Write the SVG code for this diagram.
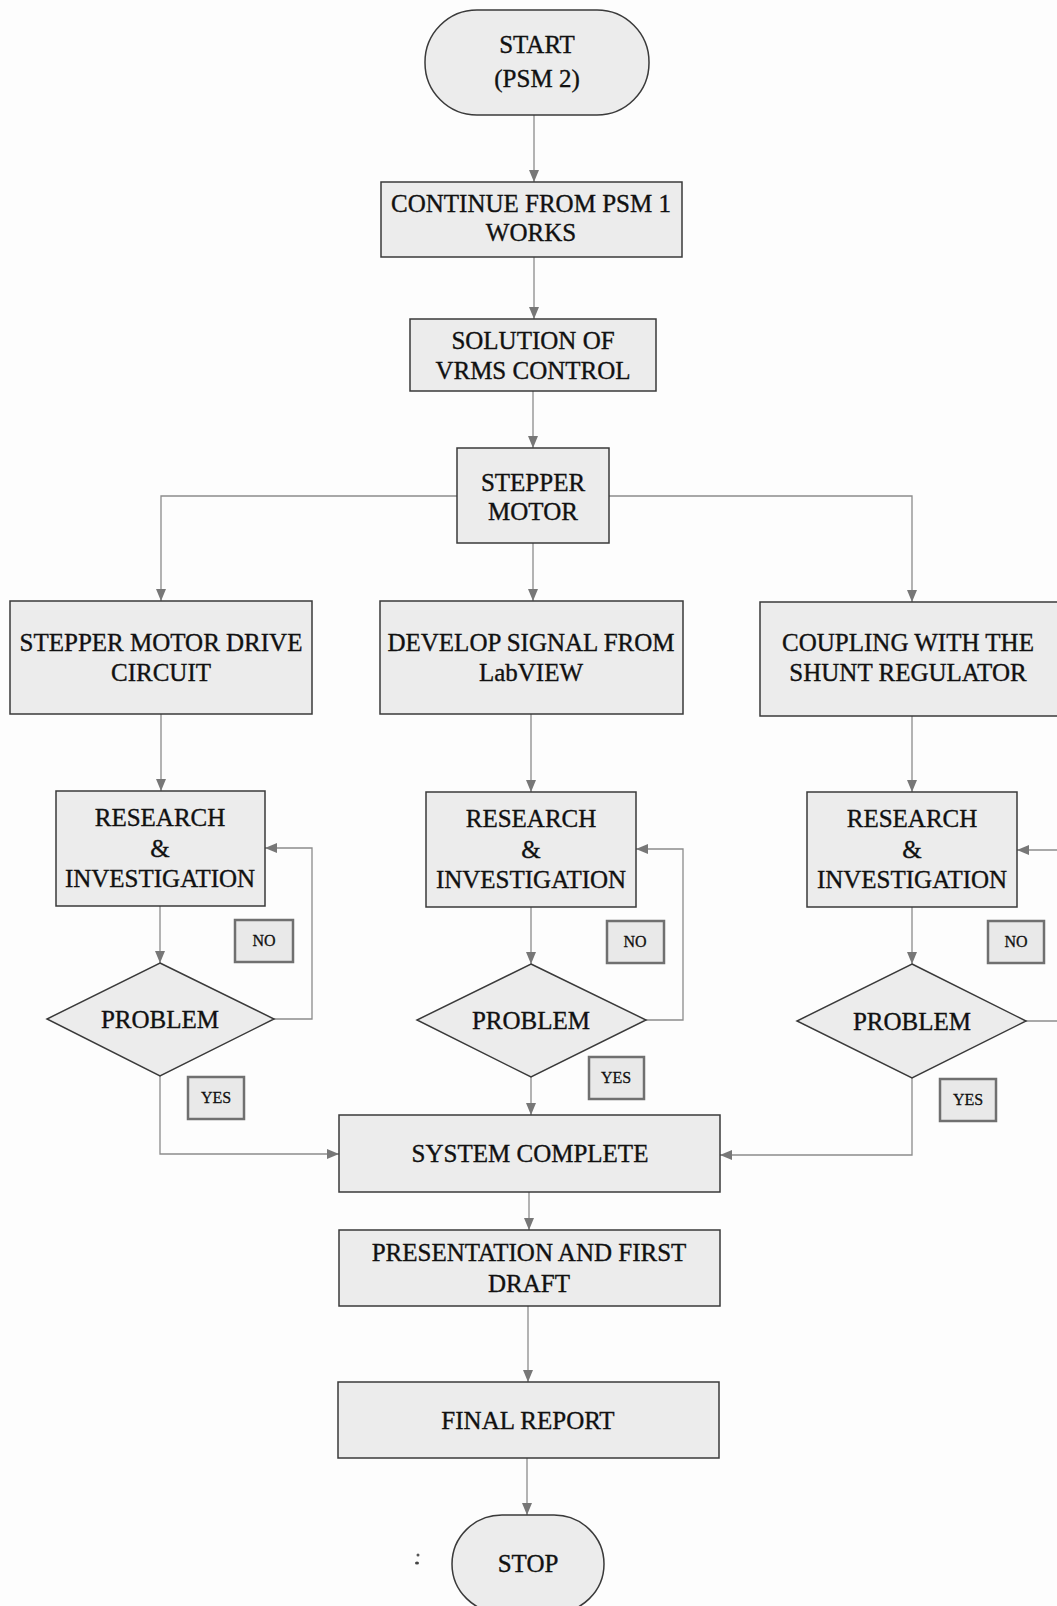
<svg xmlns="http://www.w3.org/2000/svg" width="1057" height="1606" viewBox="0 0 1057 1606">
<defs>
<style>
.box{fill:#ececec;stroke:#3a3a3a;stroke-width:1.5}
.lbl{fill:#e9e9e9;stroke:#707070;stroke-width:2.5}
.t{font-family:"Liberation Serif","Times New Roman",serif;font-size:25px;fill:#111;stroke:#111;stroke-width:0.35;text-anchor:middle}
.s{font-family:"Liberation Serif","Times New Roman",serif;font-size:16px;fill:#111;stroke:#111;stroke-width:0.3;text-anchor:middle}
.c{fill:none;stroke:#8c8c8c;stroke-width:1.3}
</style>
<marker id="arr" viewBox="0 0 12 10" refX="12" refY="5" markerWidth="12" markerHeight="10" orient="auto" markerUnits="userSpaceOnUse">
<path d="M0,0 L12,5 L0,10 z" fill="#777"/>
</marker>
</defs>
<rect x="0" y="0" width="1057" height="1606" fill="#fdfdfd"/>

<g id="connectors">
<path class="c" d="M534,115 V182" marker-end="url(#arr)"/>
<path class="c" d="M534,257 V319" marker-end="url(#arr)"/>
<path class="c" d="M533,391 V448" marker-end="url(#arr)"/>
<path class="c" d="M533,543 V601" marker-end="url(#arr)"/>
<path class="c" d="M457,496 H161 V601" marker-end="url(#arr)"/>
<path class="c" d="M609,496 H912 V602" marker-end="url(#arr)"/>
<path class="c" d="M161,714 V791" marker-end="url(#arr)"/>
<path class="c" d="M531,714 V792" marker-end="url(#arr)"/>
<path class="c" d="M912,716 V792" marker-end="url(#arr)"/>
<path class="c" d="M160,906 V963" marker-end="url(#arr)"/>
<path class="c" d="M531,907 V964" marker-end="url(#arr)"/>
<path class="c" d="M912,907 V964" marker-end="url(#arr)"/>
<path class="c" d="M274,1019 H312 V848 H265" marker-end="url(#arr)"/>
<path class="c" d="M646,1020 H683 V849 H636" marker-end="url(#arr)"/>
<path class="c" d="M1026,1021 H1060"/>
<path class="c" d="M1060,850 H1017" marker-end="url(#arr)"/>
<path class="c" d="M160,1076 V1154 H339" marker-end="url(#arr)"/>
<path class="c" d="M531,1077 V1115" marker-end="url(#arr)"/>
<path class="c" d="M912,1078 V1155 H720" marker-end="url(#arr)"/>
<path class="c" d="M529,1192 V1230" marker-end="url(#arr)"/>
<path class="c" d="M528,1306 V1382" marker-end="url(#arr)"/>
<path class="c" d="M527,1458 V1515" marker-end="url(#arr)"/>
</g>

<g id="start">
<rect class="box" x="425" y="10" width="224" height="105" rx="52" ry="52"/>
<text class="t" x="537" y="53">START</text>
<text class="t" x="537" y="87">(PSM 2)</text>
</g>

<g id="continue">
<rect class="box" x="381" y="182" width="301" height="75"/>
<text class="t" x="531" y="212">CONTINUE FROM PSM 1</text>
<text class="t" x="531" y="241">WORKS</text>
</g>

<g id="solution">
<rect class="box" x="410" y="319" width="246" height="72"/>
<text class="t" x="533" y="349">SOLUTION OF</text>
<text class="t" x="533" y="379">VRMS CONTROL</text>
</g>

<g id="stepper">
<rect class="box" x="457" y="448" width="152" height="95"/>
<text class="t" x="533" y="491">STEPPER</text>
<text class="t" x="533" y="520">MOTOR</text>
</g>

<g id="drive">
<rect class="box" x="10" y="601" width="302" height="113"/>
<text class="t" x="161" y="651">STEPPER MOTOR DRIVE</text>
<text class="t" x="161" y="681">CIRCUIT</text>
</g>

<g id="signal">
<rect class="box" x="380" y="601" width="303" height="113"/>
<text class="t" x="531" y="651">DEVELOP SIGNAL FROM</text>
<text class="t" x="531" y="681">LabVIEW</text>
</g>

<g id="coupling">
<rect class="box" x="760" y="602" width="302" height="114"/>
<text class="t" x="908" y="651">COUPLING WITH THE</text>
<text class="t" x="908" y="681">SHUNT REGULATOR</text>
</g>

<g id="research1">
<rect class="box" x="56" y="791" width="209" height="115"/>
<text class="t" x="160" y="826">RESEARCH</text>
<text class="t" x="160" y="857">&amp;</text>
<text class="t" x="160" y="887">INVESTIGATION</text>
</g>

<g id="research2">
<rect class="box" x="426" y="792" width="210" height="115"/>
<text class="t" x="531" y="827">RESEARCH</text>
<text class="t" x="531" y="858">&amp;</text>
<text class="t" x="531" y="888">INVESTIGATION</text>
</g>

<g id="research3">
<rect class="box" x="807" y="792" width="210" height="115"/>
<text class="t" x="912" y="827">RESEARCH</text>
<text class="t" x="912" y="858">&amp;</text>
<text class="t" x="912" y="888">INVESTIGATION</text>
</g>

<g id="problem1">
<polygon class="box" points="160,963 274,1019 160,1076 47,1019"/>
<text class="t" x="160" y="1028">PROBLEM</text>
</g>

<g id="problem2">
<polygon class="box" points="531,964 646,1020 531,1077 417,1020"/>
<text class="t" x="531" y="1029">PROBLEM</text>
</g>

<g id="problem3">
<polygon class="box" points="912,964 1026,1021 912,1078 797,1021"/>
<text class="t" x="912" y="1030">PROBLEM</text>
</g>

<g id="no1">
<rect class="lbl" x="235" y="920" width="58" height="42"/>
<text class="s" x="264" y="946">NO</text>
</g>
<g id="no2">
<rect class="lbl" x="607" y="921" width="57" height="42"/>
<text class="s" x="635" y="947">NO</text>
</g>
<g id="no3">
<rect class="lbl" x="988" y="921" width="56" height="42"/>
<text class="s" x="1016" y="947">NO</text>
</g>

<g id="yes1">
<rect class="lbl" x="188" y="1077" width="56" height="42"/>
<text class="s" x="216" y="1103">YES</text>
</g>
<g id="yes2">
<rect class="lbl" x="589" y="1057" width="55" height="42"/>
<text class="s" x="616" y="1083">YES</text>
</g>
<g id="yes3">
<rect class="lbl" x="940" y="1079" width="56" height="42"/>
<text class="s" x="968" y="1105">YES</text>
</g>

<g id="system">
<rect class="box" x="339" y="1115" width="381" height="77"/>
<text class="t" x="530" y="1162">SYSTEM COMPLETE</text>
</g>

<g id="presentation">
<rect class="box" x="339" y="1230" width="381" height="76"/>
<text class="t" x="529" y="1261">PRESENTATION AND FIRST</text>
<text class="t" x="529" y="1292">DRAFT</text>
</g>

<g id="final">
<rect class="box" x="338" y="1382" width="381" height="76"/>
<text class="t" x="528" y="1429">FINAL REPORT</text>
</g>

<g id="stop">
<rect class="box" x="452" y="1515" width="152" height="98" rx="50" ry="50"/>
<text class="t" x="528" y="1572">STOP</text>
</g>

<ellipse cx="418" cy="1555" rx="1.5" ry="1.5" fill="#555"/>
<ellipse cx="417" cy="1563" rx="2" ry="1.5" fill="#444"/>
</svg>
